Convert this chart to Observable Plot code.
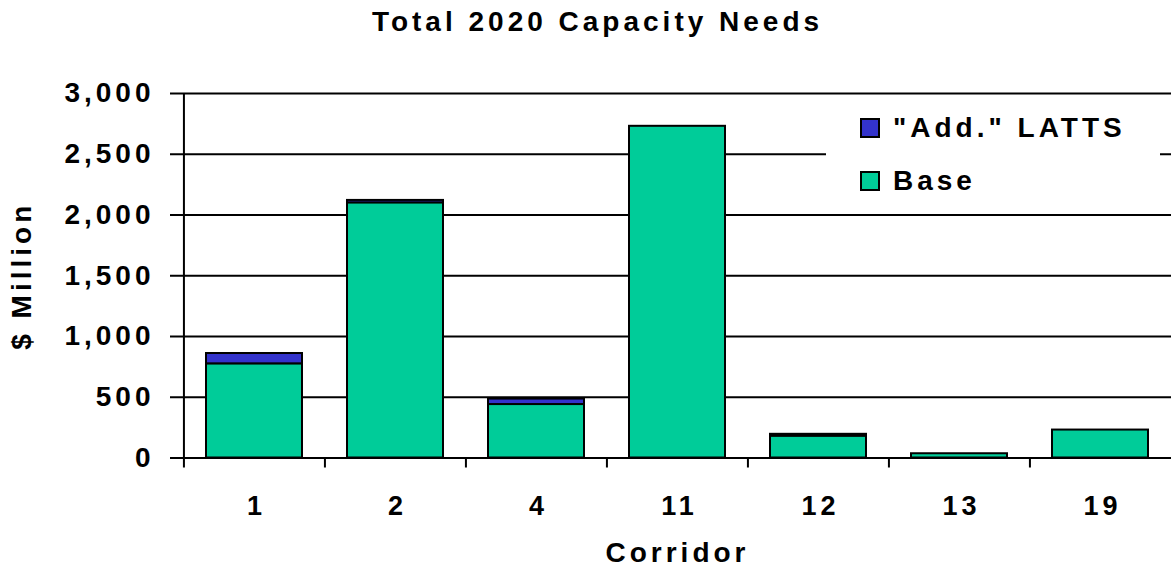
<!DOCTYPE html>
<html>
<head>
<meta charset="utf-8">
<script src="https://cdn.jsdelivr.net/npm/d3@7"></script>
<script src="https://cdn.jsdelivr.net/npm/@observablehq/plot@0.6"></script>
<style>
  html, body { margin: 0; padding: 0; background: #fff; }
  #wrap { position: relative; width: 1171px; height: 586px; }
  .legend {
    position: absolute; left: 826px; top: 106px; width: 334px; height: 102px;
    background: #fff;
    font-family: "Liberation Sans", Arial, sans-serif; font-weight: bold;
    font-size: 28px; letter-spacing: 4px; line-height: 1; color: #000;
  }
  .legend .sw { position: absolute; left: 34px; width: 20px; height: 20px; box-sizing: border-box; border: 2px solid #000; }
  .legend .lb { position: absolute; left: 67px; white-space: nowrap; }
</style>
</head>
<body>
<div id="wrap"></div>
<script>
// Corridor categories and stacked capacity needs ($ million)
const corridors = ["1", "2", "4", "11", "12", "13", "19"];
const baseValues = [775, 2100, 440, 2730, 180, 35, 230];
const addValues = [85, 20, 45, 0, 15, 0, 0];
const yTicks = [0, 500, 1000, 1500, 2000, 2500, 3000];
const seriesNames = ['"Add." LATTS', "Base"];
const seriesColors = ["#3333CC", "#00CC99"];

const rows = corridors.flatMap((c, i) => [
  {corridor: c, series: "Base", value: baseValues[i]},
  {corridor: c, series: '"Add." LATTS', value: addValues[i]}
]).filter(d => d.value > 0);

const W = 1171, H = 586;
const mL = 183, mR = 0, mT = 93, mB = 128.5;
const step = (W - mL - mR) / corridors.length;
const thousands = d3.format(",");

const chart = Plot.plot({
  width: W, height: H,
  marginTop: mT, marginBottom: mB, marginLeft: mL, marginRight: mR,
  style: {
    fontFamily: '"Liberation Sans", Arial, sans-serif',
    fontWeight: "bold", fontSize: "28px", letterSpacing: "4px",
    color: "#000", background: "#fff", overflow: "visible"
  },
  x: {domain: corridors, paddingInner: 0.32, paddingOuter: 0.16, axis: null},
  y: {domain: [0, 3000], axis: null},
  color: {domain: seriesNames, range: seriesColors},
  marks: [
    // horizontal gridlines
    Plot.ruleY(yTicks, {stroke: "#000", strokeWidth: 2}),
    // stacked bars
    Plot.barY(rows, {
      x: "corridor", y: "value", fill: "series",
      stroke: "#000", strokeWidth: 2,
      order: ["Base", '"Add." LATTS']
    }),
    // vertical value axis line
    Plot.ruleX([corridors[0]], {x: d => d, dx: -step / 2, y1: 3000, y2: 0, insetBottom: -10, strokeWidth: 2}),
    // category boundary ticks
    Plot.ruleX(corridors.slice(1), {x: d => d, dx: -step / 2, y1: 0, y2: 0, insetBottom: -10, strokeWidth: 2}),
    Plot.axisY({ticks: yTicks, tickSize: 13, tickPadding: 16, tickFormat: thousands, strokeWidth: 2, fontSize: 28, label: null}),
    Plot.axisX({tickSize: 0, tickPadding: 38, fontSize: 27, dx: 2, label: null}),
    // titles
    Plot.text(["Total 2020 Capacity Needs"], {text: d => d, frameAnchor: "top", textAnchor: "middle", dx: -80, dy: -71, lineAnchor: "middle", fontSize: 28, letterSpacing: 5.2}),
    Plot.text(["Corridor"], {text: d => d, frameAnchor: "bottom", textAnchor: "middle", dy: 95, lineAnchor: "middle", fontSize: 28}),
    Plot.text(["$ Million"], {text: d => d, frameAnchor: "left", textAnchor: "middle", dx: -161, rotate: -90, lineAnchor: "middle", fontSize: 28})
  ]
});

const wrap = document.getElementById("wrap");
wrap.appendChild(chart);

// legend
const legend = document.createElement("div");
legend.className = "legend";
seriesNames.forEach((name, i) => {
  const sw = document.createElement("div");
  sw.className = "sw";
  sw.style.top = (12 + i * 53) + "px";
  sw.style.background = seriesColors[i];
  const lb = document.createElement("div");
  lb.className = "lb";
  lb.style.top = (8 + i * 53) + "px";
  lb.textContent = name;
  legend.appendChild(sw);
  legend.appendChild(lb);
});
wrap.appendChild(legend);
</script>
</body>
</html>
